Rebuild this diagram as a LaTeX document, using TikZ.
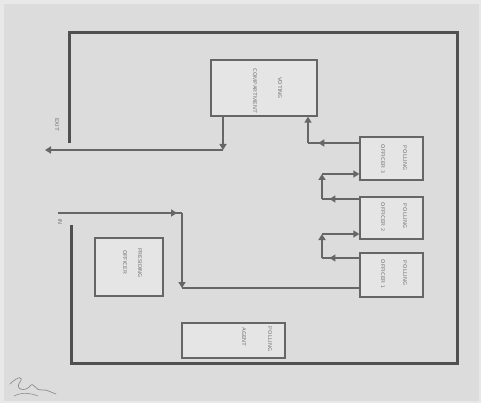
\documentclass[tikz,border=0pt]{standalone}
\usetikzlibrary{arrows.meta,decorations.markings}
\definecolor{bg}{HTML}{DCDCDC}
\definecolor{frame}{HTML}{E8E8E8}
\definecolor{wallc}{HTML}{505050}
\definecolor{linec}{HTML}{666666}
\definecolor{txtc}{HTML}{707070}
\tikzset{
  box/.style={draw=linec, line width=1.3pt, fill=bg!75!white, inner sep=0pt, minimum width=#1},
  wall/.style={draw=wallc, line width=3pt},
  conn/.style={draw=linec, line width=2.1pt},
  tip/.style={-{Triangle[length=6pt,width=7pt]}},
  marr/.style={postaction={decorate}, decoration={markings, mark=at position #1 with {\arrow{Triangle[length=6pt,width=7pt]}}}},
  lbl/.style={font=\fontsize{5.5}{6}\selectfont\sffamily, rotate=-90, text=txtc, inner sep=0pt}
}
\begin{document}
\begin{tikzpicture}[x=1pt,y=-1pt]
\fill[frame] (0,0) rectangle (481,403);
\fill[bg] (4,4) rectangle (479,401);
\useasboundingbox (0,0) rectangle (481,403);

% boxes
\node[box=106pt, minimum height=56pt] (vc) at (264,88) {};
\node[box=63pt, minimum height=43pt] (po3) at (391.5,158.5) {};
\node[box=63pt, minimum height=42pt] (po2) at (391.5,218) {};
\node[box=63pt, minimum height=44pt] (po1) at (391.5,275) {};
\node[box=68pt, minimum height=58pt] (pres) at (129,267) {};
\node[box=103pt, minimum height=35pt] (agent) at (233.5,340.5) {};

% labels
\node[lbl] (vc1) at (280,88) {VOTING};
\node[lbl] (vc2) at (255,91) {COMPARTMENT};
\node[lbl] (p3a) at (405,158) {POLLING};
\node[lbl] (p3b) at (383,159) {OFFICER 3};
\node[lbl] (p2a) at (405,216) {POLLING};
\node[lbl] (p2b) at (383,217) {OFFICER 2};
\node[lbl] (p1a) at (405,273) {POLLING};
\node[lbl] (p1b) at (383,274) {OFFICER 1};
\node[lbl] (pra) at (140,263) {PRESIDING};
\node[lbl] (prb) at (125,262) {OFFICER};
\node[lbl] (aga) at (270,339) {POLLING};
\node[lbl] (agb) at (244,337) {AGENT};
\node[lbl] (exitl) at (57,125) {EXIT};
\node[lbl] (inl) at (60,222) {IN};

% walls
\coordinate (w1) at (69,143);
\coordinate (w2) at (69,33);
\coordinate (w3) at (457,33);
\coordinate (w4) at (457,363);
\coordinate (w5) at (71,363);
\coordinate (w6) at (71,225);
\draw[wall] (w1) -- (w2) -- (w3) -- (w4) -- (w5) -- (w6);

% exit path
\coordinate (e1) at (223,150);
\coordinate (exitpt) at (45,150);
\draw[conn,tip] (vc.south -| e1) -- (e1);
\draw[conn,tip] (e1) -- (exitpt);

% PO3 -> VC
\coordinate (k3) at (308,143);
\draw[conn,marr=0.8] (po3.west |- k3) -- (k3);
\draw[conn,tip] (k3) -- (vc.south -| k3);

% PO2 -> PO3
\coordinate (k2a) at (322,199);
\coordinate (k2b) at (322,174);
\draw[conn,marr=0.8] (po2.west |- k2a) -- (k2a);
\draw[conn,tip] (k2a) -- (k2b);
\draw[conn,tip] (k2b) -- (po3.west |- k2b);

% PO1 -> PO2
\coordinate (k1a) at (322,258);
\coordinate (k1b) at (322,234);
\draw[conn,marr=0.8] (po1.west |- k1a) -- (k1a);
\draw[conn,tip] (k1a) -- (k1b);
\draw[conn,tip] (k1b) -- (po2.west |- k1b);

% IN path
\coordinate (in0) at (58,213);
\coordinate (in1) at (182,213);
\coordinate (in2) at (182,288);
\draw[conn,marr=0.96] (in0) -- (in1);
\draw[conn,tip] (in1) -- (in2);
\draw[conn] (in2) -- (po1.west |- in2);

% signature scribble
\draw[txtc!80!white, line width=0.7pt, line cap=round]
  (10,384) .. controls (18,376) and (24,376) .. (20,382)
  .. controls (14,390) and (26,392) .. (30,386)
  .. controls (34,381) and (36,392) .. (42,390)
  .. controls (46,389) and (50,392) .. (56,394);
\draw[txtc!80!white, line width=0.6pt, line cap=round]
  (14,396) .. controls (22,392) and (30,393) .. (38,396);
\end{tikzpicture}
\end{document}
